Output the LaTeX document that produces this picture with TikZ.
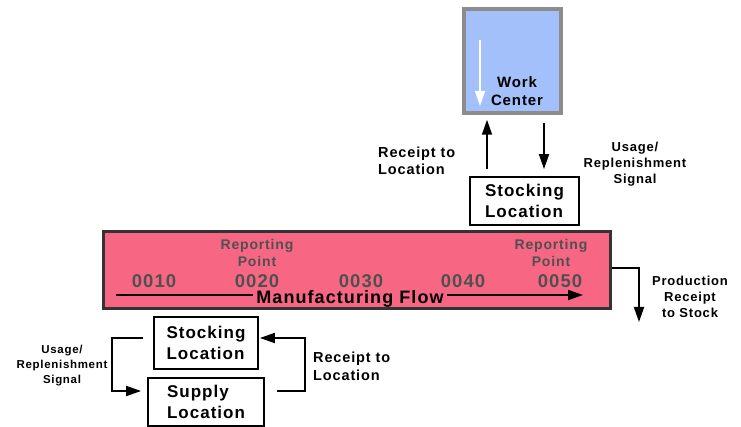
\documentclass[tikz,border=0pt]{standalone}
\usepackage{fontspec}
\setmainfont{Liberation Sans}[LetterSpace=6]
\usetikzlibrary{arrows.meta,positioning}

\definecolor{wcblue}{RGB}{163,192,250}
\definecolor{wcgray}{RGB}{140,140,140}
\definecolor{mfpink}{RGB}{247,102,130}
\definecolor{mfdark}{RGB}{51,51,51}
\definecolor{mftext}{RGB}{80,80,80}

\begin{document}
\begin{tikzpicture}[x=1pt,y=-1pt,>={Triangle[length=15pt,width=10pt]},every node/.append style={align=center,inner sep=0pt},
    loc/.style={draw, line width=1.8pt, align=left, font=\fontsize{17}{20.5}\selectfont\bfseries},
    lbl/.style={align=left, font=\fontsize{14.5}{17.5}\selectfont\bfseries},
    sig/.style={font=\fontsize{13}{16}\selectfont\bfseries},
    op/.style={text=mftext, font=\fontsize{18.5}{20}\selectfont\bfseries, anchor=base},
    rp/.style={text=mftext, font=\fontsize{14}{17}\selectfont\bfseries, anchor=base},
    flow/.style={line width=1.8pt},]
    \useasboundingbox (0,0) rectangle (741,427);

    % work center and its stocking location
    \node [draw=wcgray, fill=wcblue, line width=3.5pt, minimum width=97pt, minimum height=104pt] (WC) at (512.5,61) {};
    \node [font=\fontsize{15}{18}\selectfont\bfseries, anchor=base] (WCtext) at (517,106) {Work\\Center};
    \draw [->, white, flow] (480,40) -- (480,106);
    \node [loc, minimum width=109pt, minimum height=48pt] (SL1) at (524.5,201) {Stocking\\Location};
    \draw [->, flow] ([xshift=-37.5pt,yshift=7pt] SL1.north) -- ([xshift=-25.5pt,yshift=-5pt] WC.south);
    \draw [->, flow] ([xshift=31.5pt,yshift=-8pt] WC.south) -- ([xshift=19.5pt,yshift=7pt] SL1.north);
    \node [lbl, anchor=base west] (rcpt1) at (378,175) {Receipt to\\Location};
    \node [sig, anchor=base] (sig1) at (635,184) {Usage/\\Replenishment\\Signal};

    % manufacturing flow bar
    \node [draw=mfdark, fill=mfpink, line width=3pt, minimum width=507pt, minimum height=77pt] (MF) at (357,270.5) {};
    \node [rp] (rp20) at (257,267) {Reporting\\Point};
    \node [rp] (rp50) at (551,267) {Reporting\\Point};
    \foreach \x/\op in {154/0010, 257/0020, 361/0030, 463/0040, 560/0050}
        \node [op] (op\op) at (\x,287.5) {\op};
    \node [font=\fontsize{18}{20}\selectfont\bfseries, anchor=base, inner xsep=3pt, text height=13pt] (flow) at (350,304) {Manufacturing Flow};
    \coordinate (fs) at (116,295);
    \coordinate (fe) at (583,295);
    \draw [flow] (fs) -- (fs -| flow.west);
    \draw [->, flow] (fe -| flow.east) -- (fe);

    % production receipt
    \coordinate (stock) at (639,322);
    \draw [->, flow] ([yshift=2.5pt] MF.east) -| (stock);
    \node [sig, anchor=base] (prod) at (690,317) {Production\\Receipt\\to Stock};

    % supply loop
    \node [loc, minimum width=104pt, minimum height=52pt] (SL2) at (206,343) {Stocking\\Location};
    \node [loc, minimum width=116pt, minimum height=48pt] (SUP) at (206,402) {Supply\\Location};
    \draw [->, flow] ([xshift=-10pt,yshift=5pt] SL2.west) -- ++(-31,0) |- ([xshift=-6pt,yshift=11pt] SUP.west);
    \draw [->, flow] ([xshift=12pt,yshift=11pt] SUP.east) -- ++(28,0) |- ([xshift=1pt,yshift=5pt] SL2.east);
    \node [font=\fontsize{11.5}{15}\selectfont\bfseries, anchor=base] (sig2) at (62,383) {Usage/\\Replenishment\\Signal};
    \node [lbl, anchor=base west] (rcpt2) at (313,380) {Receipt to\\Location};
\end{tikzpicture}
\end{document}
